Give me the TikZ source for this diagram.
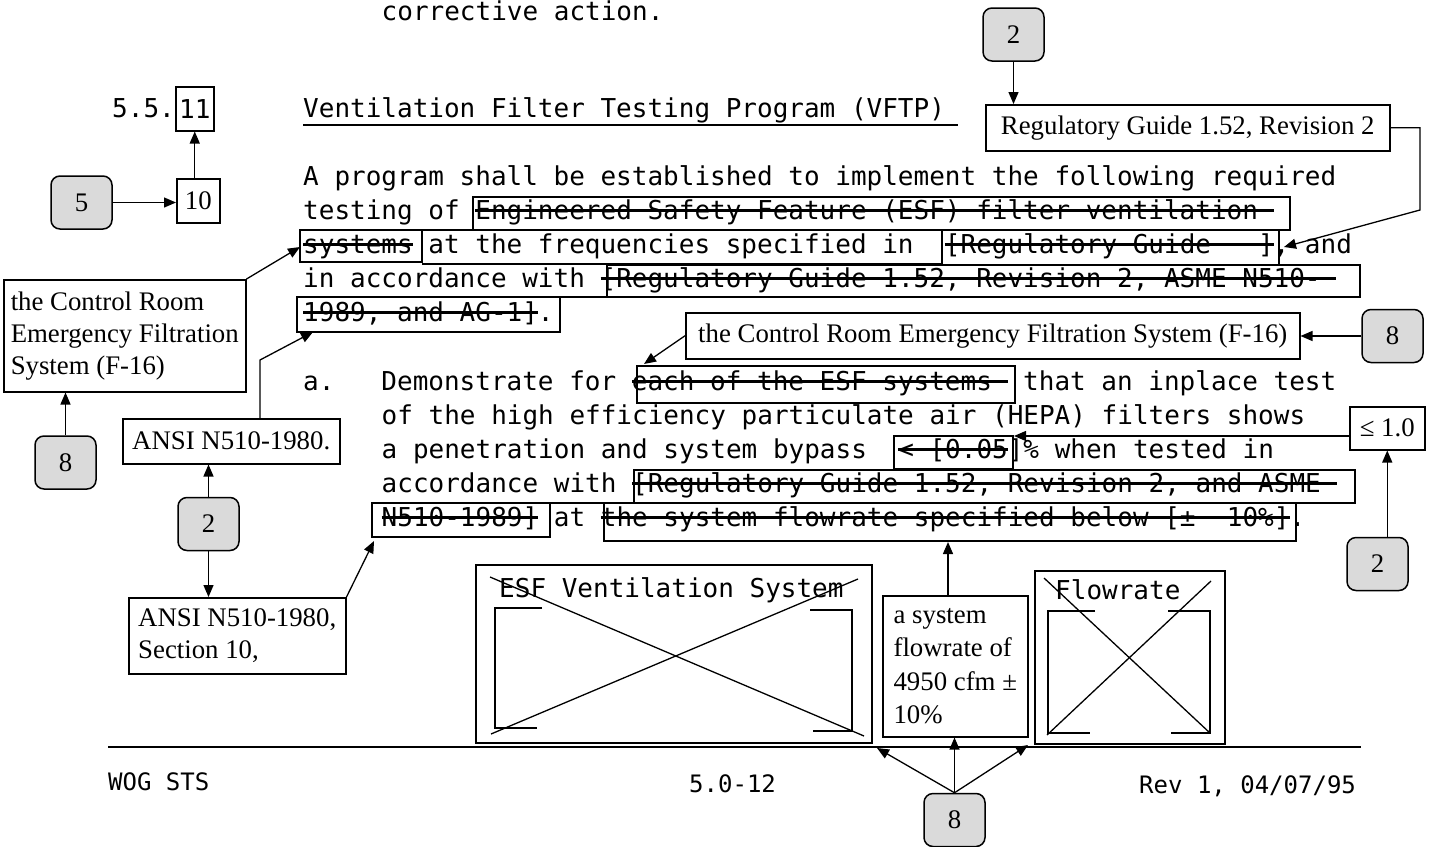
\documentclass[tikz,border=0pt]{standalone}
\usepackage{fontspec}
\setmainfont{Liberation Serif}
\newfontfamily\pagemono{DejaVu Sans Mono}
\usetikzlibrary{arrows.meta}
\definecolor{tagfill}{HTML}{DADADA}
\newcommand{\bodymono}{\pagemono\fontsize{26}{34}\selectfont\frenchspacing}
\newcommand{\footmono}{\pagemono\fontsize{24}{30}\selectfont}
\newcommand{\notefont}{\fontsize{26.8}{32}\selectfont}
\newcommand{\strk}[1]{\setbox0=\hbox{#1}\rlap{\rule[7.5pt]{\wd0}{3pt}}\box0\relax}
\tikzset{
  bodyline/.style={font=\bodymono, inner sep=0pt, anchor=base west},
  footline/.style={font=\footmono, inner sep=0pt, anchor=base west},
  note/.style={draw, line width=1.5pt, fill=white, font=\notefont, align=left, inner sep=0pt, anchor=north west},
  tag/.style={draw, line width=1.5pt, rounded corners=9pt, fill=tagfill, minimum width=61pt, minimum height=53pt, inner sep=0pt, font=\notefont},
  edge/.style={line width=1.3pt, -{Triangle[length=12pt,width=10pt]}},
  runbox/.style={line width=1.5pt},
  frame/.style={draw, line width=1.5pt, inner sep=0pt, anchor=north west},
  bracket/.style={line width=2pt},
  cross/.style={line width=1.3pt}
}

\begin{document}
\begin{tikzpicture}[x=1pt,y=-1pt]
\useasboundingbox (0,0) rectangle (1434,846);
\fill[white] (0,0) rectangle (1434,846);

\node[bodyline] (prev) at (381.5,20) {corrective action.};

% heading
\node[bodyline] (secnum) at (112,117) {5.5.};
\node[frame, font=\bodymono, minimum width=38pt, minimum height=44pt] (box11) at (175,86) {11};
\node[bodyline] (title) at (303,117) {Ventilation Filter Testing Program (VFTP)};
\draw[line width=1.8pt] (303,125) -- (958,125);
\node[frame, font=\notefont, minimum width=43pt, minimum height=44pt] (box10) at (176,178) {10};
\node[tag] (tag5) at (81.5,202.5) {5};
\draw[edge] (tag5.east) -- (tag5.east -| box10.west);
\draw[edge] (box11.south |- box10.north) -- (box11.south);

% marked runs
\draw[runbox] (300,262) -- (300,230) -- (473,230) -- (473,197) -- (1290,197) -- (1290,230) -- (422,230) -- (422,262) -- cycle;
\draw[runbox] (942,230) rectangle (1279,265);
\draw[runbox] (422,264) -- (942,264);
\draw[runbox] (607,265) -- (1360,265) -- (1360,297) -- (560,297) -- (560,332) -- (297,332) -- (297,297) -- (607,297) -- cycle;
\draw[runbox] (637,366) rectangle (1015,403);
\draw[runbox] (894,436) rectangle (1013,469);
\draw[runbox] (634,470) -- (1355,470) -- (1355,503) -- (550,503) -- (550,537) -- (372,537) -- (372,503) -- (634,503) -- cycle;
\draw[runbox] (604,503) rectangle (1296,541);

% program text
\node[bodyline] (l1) at (303,185) {A program shall be established to implement the following required};
\node[bodyline] (l2) at (303,219) {testing of \strk{Engineered Safety Feature (ESF) filter ventilation\ }};
\node[bodyline] (l3) at (303,253) {\strk{systems} at the frequencies specified in~~\strk{[Regulatory Guide~~~]}, and};
\node[bodyline] (l4) at (303,287) {in accordance with \strk{[Regulatory Guide 1.52, Revision 2, ASME N510-\ }};
\node[bodyline] (l5) at (303,321) {\strk{1989, and AG-1]}.};

% paragraph a
\node[bodyline] (a1) at (303,390) {a.~~~Demonstrate for \strk{each of the ESF systems\ } that an inplace test};
\node[bodyline] (a2) at (381.5,424) {of the high efficiency particulate air (HEPA) filters shows};
\node[bodyline] (a3) at (381.5,458) {a penetration and system bypass~~\strk{< [0.05}]\% when tested in};
\node[bodyline] (a4) at (381.5,492) {accordance with \strk{[Regulatory Guide 1.52, Revision 2, and ASME\ }};
\node[bodyline] (a5) at (381.5,526) {\strk{N510-1989]} at \strk{the system flowrate specified below [±~~10\%]}.};

% callouts
\node[tag] (tagtop) at (1013.5,34.5) {2};
\node[note, minimum width=404pt, minimum height=46pt] (reg) at (985,104) {Regulatory Guide 1.52, Revision 2};
\draw[edge] (tagtop.south) -- (tagtop.south |- reg.north);
\coordinate (bendR) at (1420,210);
\coordinate (guideTip) at (1284,247);
\draw[edge] (reg.east) -| (bendR) -- (guideTip);

\node[note, minimum width=242pt, minimum height=112pt] (roomL) at (3,279) {the Control Room\\Emergency Filtration\\System (F-16)};
\node[tag] (tag8L) at (65.5,462.5) {8};
\coordinate (sysTip) at (300,247);
\draw[edge] (roomL.north east) -- (sysTip);
\draw[edge] (tag8L.north) -- (tag8L.north |- roomL.south);

\node[note, minimum width=217pt, minimum height=45pt] (ansiA) at (122,418) {ANSI N510-1980.};
\node[tag] (tag2L) at (208.5,524) {2};
\node[note, minimum width=217pt, minimum height=76pt] (ansiB) at (128,597) {ANSI N510-1980,\\Section 10,};
\coordinate (kneeA) at (260,360);
\coordinate (agTip) at (313,332);
\draw[edge] (kneeA |- ansiA.north) -- (kneeA) -- (agTip);
\draw[edge] (tag2L.north) -- (tag2L.north |- ansiA.south);
\draw[edge] (tag2L.south) -- (tag2L.south |- ansiB.north);
\coordinate (n510Tip) at (374,541);
\draw[edge] (ansiB.north east) -- (n510Tip);

\node[note, minimum width=614pt, minimum height=46pt] (roomR) at (685,312) {the Control Room Emergency Filtration System (F-16)};
\node[tag] (tag8R) at (1392.5,336) {8};
\coordinate (esfRunTip) at (644,364);
\draw[edge] (roomR.west) -- (esfRunTip);
\draw[edge] (tag8R.west) -- (tag8R.west -| roomR.east);

\node[note, minimum width=75pt, minimum height=43pt] (le10) at (1349,406) {≤ 1.0};
\node[tag] (tag2R) at (1377.5,564) {2};
\coordinate (pctTip) at (1014,436);
\draw[edge] (le10.west |- pctTip) -- (pctTip);
\draw[edge] (le10.south |- tag2R.north) -- (le10.south);

% figure placeholders
\node[frame, minimum width=396pt, minimum height=178pt] (esfBox) at (475,564) {};
\node[bodyline] (esfLabel) at (499,597) {ESF Ventilation System};
\draw[bracket] (542,608) -- (495,608) -- (495,728) -- (537,728);
\draw[bracket] (810,610) -- (852,610) -- (852,731) -- (813,731);
\draw[cross] (490,577) -- (864,736);
\draw[cross] (491,734) -- (858,579);

\node[frame, minimum width=190pt, minimum height=173pt] (flowBox) at (1034,570) {};
\node[bodyline] (flowLabel) at (1055,599) {Flowrate};
\draw[bracket] (1095,611) -- (1048,611) -- (1048,733) -- (1090,733);
\draw[bracket] (1168,611) -- (1210,611) -- (1210,733) -- (1171,733);
\draw[cross] (1044,578) -- (1210,733);
\draw[cross] (1047,735) -- (1211,581);

\node[note, minimum width=145pt, minimum height=141pt, font=\fontsize{26.8}{33.3}\selectfont] (flowNote) at (882,595) {a system\\flowrate of\\4950 cfm ±\\10\%};
\coordinate (rateTip) at (948,542);
\draw[edge] (rateTip |- flowNote.north) -- (rateTip);

% footer
\draw[line width=1.8pt] (108,747) -- (1361,747);
\node[footline] (wog) at (108,790) {WOG STS};
\node[footline] (pageno) at (689,792) {5.0-12};
\node[footline] (rev) at (1139,793) {Rev 1, 04/07/95};

\node[tag] (tag8B) at (954.5,820) {8};
\coordinate (esfTip) at (877,748);
\coordinate (flowTip) at (1028,745);
\draw[edge] (tag8B.north) -- (esfTip);
\draw[edge] (tag8B.north) -- (flowNote.south -| tag8B.north);
\draw[edge] (tag8B.north) -- (flowTip);
\end{tikzpicture}
\end{document}
